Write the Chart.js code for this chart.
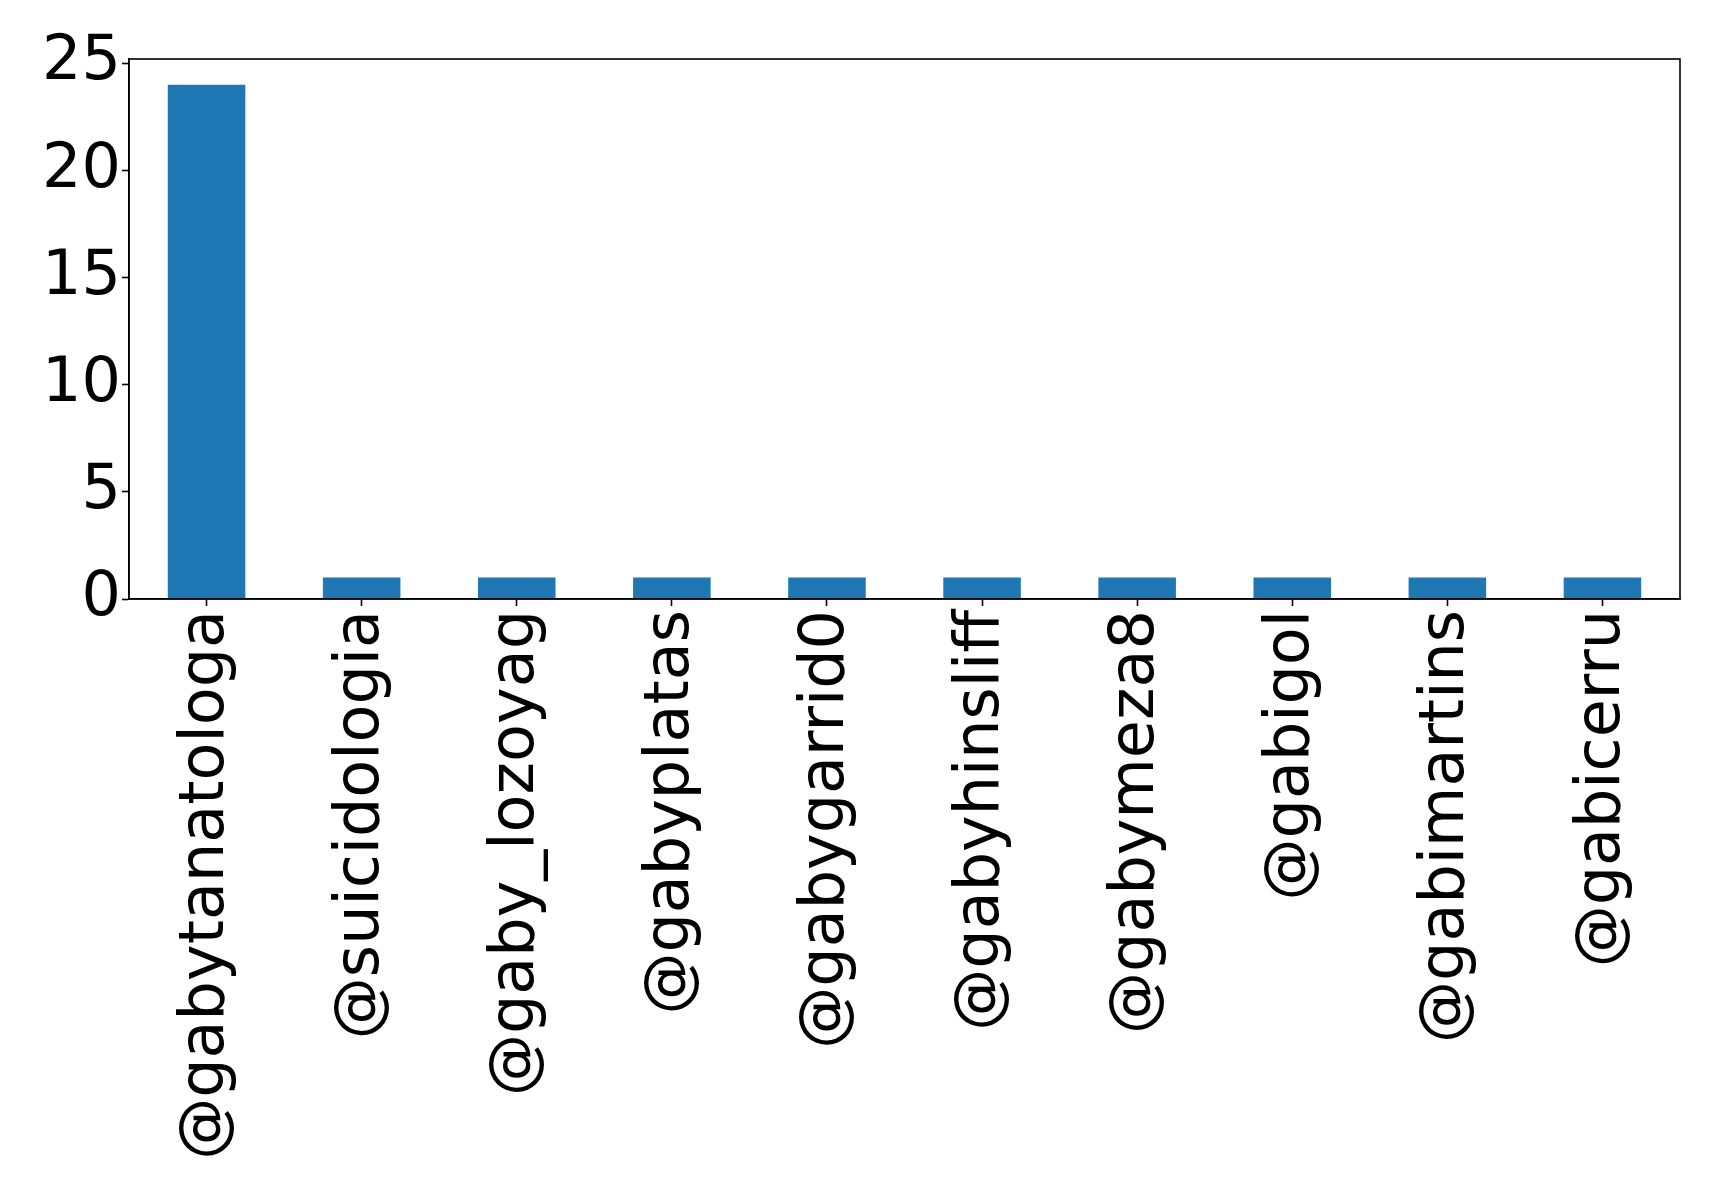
<!DOCTYPE html>
<html>

<head>
    <meta charset="UTF-8">
    <title>Mentions</title>
    <script src="https://cdn.jsdelivr.net/npm/chart.js"></script>
    <style>
        html, body { margin: 0; padding: 0; background: #fff; }
        canvas { display: block; }
    </style>
</head>

<body>
    <canvas id="mentionsChart" width="1719" height="1201"></canvas>

    <script>
        const users = [
            "@gabytanatologa", "@suicidologia", "@gaby_lozoyag", "@gabyplatas", "@gabygarrid0",
            "@gabyhinsliff", "@gabymeza8", "@gabigol", "@gabimartins", "@gabicerru"
        ];
        const counts = [24, 1, 1, 1, 1, 1, 1, 1, 1, 1];
        const yTicks = [0, 5, 10, 15, 20, 25];

        // top and right spines, like a matplotlib frame
        const frame = {
            id: "frame",
            afterDraw(chart) {
                const { ctx, chartArea: a } = chart;
                ctx.save();
                ctx.strokeStyle = "#000";
                ctx.lineWidth = 1.6;
                ctx.strokeRect(a.left, a.top, a.right - a.left, a.bottom - a.top);
                ctx.restore();
            }
        };

        const font = { family: "'DejaVu Sans'", size: 62 };

        new Chart(document.getElementById("mentionsChart").getContext("2d"), {
            type: "bar",
            data: {
                labels: users,
                datasets: [{
                    data: counts,
                    backgroundColor: "#1f77b4",
                    barPercentage: 0.5,
                    categoryPercentage: 1.0,
                }]
            },
            options: {
                responsive: false,
                animation: false,
                devicePixelRatio: 1,
                layout: { padding: { top: 59, right: 39, left: 0, bottom: 0 } },
                plugins: {
                    legend: { display: false },
                    tooltip: { enabled: false }
                },
                scales: {
                    x: {
                        offset: true,
                        afterFit: s => { s.height = 602; },
                        grid: { display: true, drawOnChartArea: false, offset: false, tickLength: 7, tickColor: "#000", tickWidth: 1.6 },
                        border: { display: true, color: "#000", width: 1.6 },
                        ticks: { color: "#000", font, minRotation: 90, maxRotation: 90, autoSkip: false, padding: 4 }
                    },
                    y: {
                        min: 0,
                        max: 25.2,
                        afterFit: s => { s.width = 129; },
                        afterBuildTicks: s => { s.ticks = yTicks.map(v => ({ value: v })); },
                        grid: { display: true, drawOnChartArea: false, tickLength: 7, tickColor: "#000", tickWidth: 1.6 },
                        border: { display: true, color: "#000", width: 1.6 },
                        ticks: { color: "#000", font, padding: 1 }
                    }
                }
            },
            plugins: [frame]
        });
    </script>
</body>

</html>
